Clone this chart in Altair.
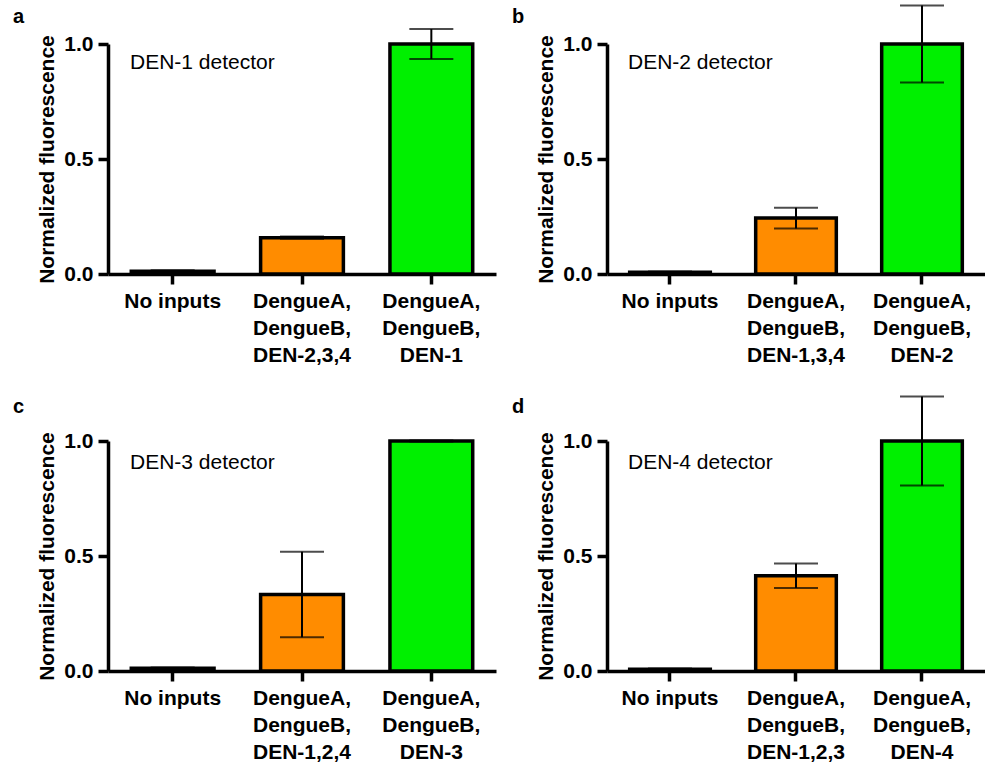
import altair as alt
import pandas as pd

letters = ["a", "b", "c", "d"]
detectors = ["DEN-1 detector", "DEN-2 detector", "DEN-3 detector", "DEN-4 detector"]
kinds = ["none", "other", "target"]
kind_colors = ["#FFFFFF", "#FF8C00", "#00F000"]

cats_a = ["No inputs", "DengueA,|DengueB,|DEN-2,3,4", "DengueA,|DengueB,|DEN-1"]
cats_b = ["No inputs", "DengueA,|DengueB,|DEN-1,3,4", "DengueA,|DengueB,|DEN-2"]
cats_c = ["No inputs", "DengueA,|DengueB,|DEN-1,2,4", "DengueA,|DengueB,|DEN-3"]
cats_d = ["No inputs", "DengueA,|DengueB,|DEN-1,2,3", "DengueA,|DengueB,|DEN-4"]

vals_a = [0.012, 0.158, 1.0]
err_a = [0.004, 0.005, 0.065]
vals_b = [0.008, 0.243, 1.0]
err_b = [0.003, 0.045, 0.167]
vals_c = [0.012, 0.333, 1.0]
err_c = [0.003, 0.186, 0.002]
vals_d = [0.008, 0.414, 1.0]
err_d = [0.003, 0.053, 0.194]

FONT = "Liberation Sans"


def panel(letter, det, cats, vals, errs, width, letter_y, det_x, det_y):
    df = pd.DataFrame({
        "cat": cats,
        "kind": kinds,
        "val": vals,
        "lo": [v - e for v, e in zip(vals, errs)],
        "hi": [v + e for v, e in zip(vals, errs)],
    })
    base = alt.Chart(df)
    xaxis = alt.Axis(labelAngle=0, labelExpr="split(datum.label, '|')",
                     labelPadding=6, labelLineHeight=27, labelOverlap=False,
                     labelLimit=300)
    xenc = alt.X("cat:N", sort=cats, title=None,
                 scale=alt.Scale(paddingInner=0.36, paddingOuter=0.18),
                 axis=xaxis)
    yscale = alt.Scale(domain=[0, 1], nice=False, zero=True)
    yaxis = alt.Axis(values=[0, 0.5, 1], format=".1f", labelPadding=5,
                     titlePadding=6)

    def yenc(field):
        return alt.Y(field + ":Q", scale=yscale, axis=yaxis,
                     title="Normalized fluorescence")

    bars = base.mark_bar(stroke="black", strokeWidth=3.5).encode(
        x=xenc, y=yenc("val"),
        color=alt.Color("kind:N", scale=alt.Scale(domain=kinds, range=kind_colors),
                        legend=None),
    )
    rule = base.mark_rule(color="black", strokeWidth=2).encode(
        x=xenc, y=yenc("lo"), y2="hi:Q")
    tlo = base.mark_tick(color="black", thickness=2, size=44).encode(
        x=xenc, y=yenc("lo"))
    thi = base.mark_tick(color="black", thickness=2, size=44).encode(
        x=xenc, y=yenc("hi"))
    det_t = alt.Chart(pd.DataFrame({"t": [det]})).mark_text(
        align="left", baseline="middle", fontSize=21, font=FONT, color="black"
    ).encode(text="t:N", x=alt.value(det_x), y=alt.value(det_y))
    let_t = alt.Chart(pd.DataFrame({"t": [letter]})).mark_text(
        align="left", baseline="alphabetic", fontSize=20, font=FONT,
        fontWeight="bold", color="black"
    ).encode(text="t:N", x=alt.value(-95), y=alt.value(letter_y))
    return alt.layer(bars, rule, tlo, thi, det_t, let_t).properties(
        width=width, height=230)


pa = panel(letters[0], detectors[0], cats_a, vals_a, err_a, 388, -21, 22, 19)
pb = panel(letters[1], detectors[1], cats_b, vals_b, err_b, 378, -21, 21, 19)
pc = panel(letters[2], detectors[2], cats_c, vals_c, err_c, 388, -28, 22, 22)
pd_ = panel(letters[3], detectors[3], cats_d, vals_d, err_d, 378, -28, 21, 22)

chart = alt.concat(
    pa, pb, pc, pd_, columns=2, spacing={"row": 167, "column": 111},
    bounds="flush",
).properties(
    padding={"left": 13, "top": 4, "right": 0, "bottom": 5},
    background="white",
).configure_axis(
    domainColor="black", domainWidth=3.5, tickColor="black", tickWidth=3.5,
    tickSize=10, labelFont=FONT, labelFontWeight="bold", labelFontSize=21,
    labelColor="black", titleFont=FONT, titleFontWeight="bold",
    titleFontSize=21, titleColor="black", grid=False,
).configure_view(stroke=None)

chart.save("out.html", embed_options={"renderer": "svg", "actions": False})
